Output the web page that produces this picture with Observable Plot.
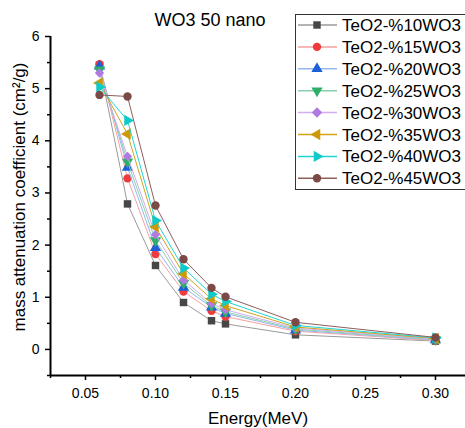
<!DOCTYPE html>
<html>
<head>
<meta charset="utf-8">
<script src="https://cdn.jsdelivr.net/npm/d3@7"></script>
<script src="https://cdn.jsdelivr.net/npm/@observablehq/plot@0.6"></script>
<style>
  html, body { margin: 0; padding: 0; background: #fff; }
</style>
</head>
<body>
<div id="chart"></div>
<script>
// ---- data ----
const energies = [0.06, 0.08, 0.10, 0.12, 0.14, 0.15, 0.20, 0.30];
const seriesNames = ["TeO2-%10WO3", "TeO2-%15WO3", "TeO2-%20WO3", "TeO2-%25WO3",
                     "TeO2-%30WO3", "TeO2-%35WO3", "TeO2-%40WO3", "TeO2-%45WO3"];
const s10 = [5.45, 2.79, 1.61, 0.90, 0.55, 0.49, 0.28, 0.16];
const s15 = [5.47, 3.28, 1.83, 1.11, 0.74, 0.63, 0.35, 0.17];
const s20 = [5.43, 3.49, 1.95, 1.19, 0.81, 0.69, 0.37, 0.18];
const s25 = [5.36, 3.60, 2.09, 1.27, 0.84, 0.72, 0.39, 0.19];
const s30 = [5.30, 3.70, 2.20, 1.33, 0.88, 0.76, 0.41, 0.20];
const s35 = [5.11, 4.13, 2.35, 1.45, 0.97, 0.84, 0.43, 0.21];
const s40 = [5.03, 4.39, 2.47, 1.56, 1.06, 0.92, 0.46, 0.22];
const s45 = [4.88, 4.85, 2.76, 1.73, 1.18, 1.01, 0.52, 0.23];
const seriesValues = [s10, s15, s20, s25, s30, s35, s40, s45];

const markerColors = ["#474747", "#ef3b3b", "#1c5fd8", "#2fae6a", "#b07ae2", "#cc9a08", "#10c9c9", "#7b4a47"];
const lineColors   = ["#9a9a9a", "#f7a0a0", "#95b8f0", "#88d0aa", "#cfaef2", "#d4a21a", "#20d4d4", "#8e5f5c"];
const symbols      = ["square", "circle", "triangle", "triangle", "diamond2", "triangle", "triangle", "circle"];
const rotations    = [0, 0, 0, 180, 0, -90, 90, 0];

const xMajor = [0.05, 0.10, 0.15, 0.20, 0.25, 0.30];
const xMinor = [0.025, 0.075, 0.125, 0.175, 0.225, 0.275];
const yMajor = [0, 1, 2, 3, 4, 5, 6];
const yMinor = [-0.5, 0.5, 1.5, 2.5, 3.5, 4.5, 5.5];

const titleText = "WO3 50 nano";
const xLabel = "Energy(MeV)";
const yLabel = "mass attenuation coefficient (cm²/g)";

// ---- build ----
const marks = [];
seriesNames.forEach((name, i) => {
  const rows = energies.map((e, j) => ({energy: e, value: seriesValues[i][j], series: name}));
  marks.push(Plot.line(rows, {x: "energy", y: "value", stroke: lineColors[i], strokeWidth: 1}));
  marks.push(Plot.dot(rows, {x: "energy", y: "value", symbol: symbols[i], r: 4.2,
    fill: markerColors[i], stroke: "none", rotate: rotations[i]}));
});

const font = "'Liberation Sans', Arial, sans-serif";
const W = 465, H = 428;

const svg = Plot.plot({
  width: W, height: H,
  marginLeft: 50, marginRight: 0, marginTop: 36, marginBottom: 53,
  style: {fontFamily: font, fontSize: "14px", background: "#fff", color: "#000"},
  x: {domain: [0.025, 0.32143], label: null},
  y: {domain: [-0.5, 6], label: null},
  marks: [
    Plot.axisX({ticks: xMajor, tickSize: 5, tickPadding: 8, tickFormat: d3.format(".2f"), fontSize: 14, label: null, strokeWidth: 1.5}),
    Plot.axisX({ticks: xMinor, tickSize: 3, tickFormat: () => "", label: null, strokeWidth: 1.5}),
    Plot.axisY({ticks: yMajor, tickSize: 5, tickPadding: 6, tickFormat: d3.format("d"), fontSize: 14, label: null, strokeWidth: 1.5}),
    Plot.axisY({ticks: yMinor, tickSize: 3, tickFormat: () => "", label: null, strokeWidth: 1.5}),
    ...marks,
    Plot.ruleX([0.025], {stroke: "#000", strokeWidth: 2}),
    Plot.ruleY([-0.5], {stroke: "#000", strokeWidth: 2})
  ]
});

const s = d3.select(svg);
s.attr("font-family", font);

// title
s.append("text").attr("x", 210).attr("y", 26).attr("text-anchor", "middle")
  .attr("font-size", 18).attr("fill", "#000").text(titleText);

// axis labels
s.append("text").attr("x", 258).attr("y", 424).attr("text-anchor", "middle")
  .attr("font-size", 17).attr("fill", "#000").text(xLabel);
s.append("text").attr("transform", "translate(25,197) rotate(-90)").attr("text-anchor", "middle")
  .attr("font-size", 17).attr("fill", "#000").text(yLabel);

// legend
const lg = s.append("g").attr("text-anchor", "start");
lg.append("rect").attr("x", 295.5).attr("y", 14.5).attr("width", 200).attr("height", 175)
  .attr("fill", "#fff").attr("stroke", "#333").attr("stroke-width", 1);
const d3sym = {square: d3.symbolSquare, circle: d3.symbolCircle, triangle: d3.symbolTriangle, diamond2: d3.symbolSquare};
seriesNames.forEach((name, i) => {
  const cy = 25 + i * 21.9;
  lg.append("line").attr("x1", 298).attr("x2", 337).attr("y1", cy).attr("y2", cy)
    .attr("stroke", lineColors[i]).attr("stroke-width", 1.5);
  const rot = symbols[i] === "diamond2" ? 45 : rotations[i];
  lg.append("path").attr("d", d3.symbol(d3sym[symbols[i]], 4.2 * 4.2 * Math.PI)())
    .attr("transform", `translate(317,${cy}) rotate(${rot})`).attr("fill", markerColors[i]);
  lg.append("text").attr("x", 342).attr("y", cy + 6).attr("text-anchor", "start")
    .attr("font-size", 17).attr("fill", "#000").text(name);
});

document.getElementById("chart").appendChild(svg);
</script>
</body>
</html>
